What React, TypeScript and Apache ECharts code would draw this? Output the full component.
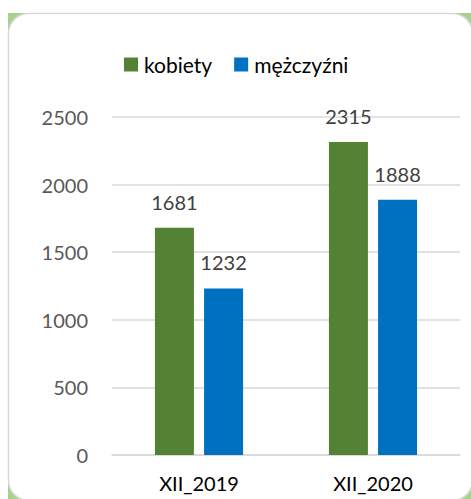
import React, { useEffect, useRef } from "react";
import * as echarts from "echarts";

const categories = ["XII_2019", "XII_2020"];
const kobiety = [1681, 2315];
const mezczyzni = [1232, 1888];
const seriesNames = ["kobiety", "mężczyźni"];
const yTicks = [0, 500, 1000, 1500, 2000, 2500];

const FONT = "Lato, 'Open Sans', sans-serif";

export default function App() {
  const ref = useRef<HTMLDivElement>(null);
  useEffect(() => {
    if (!ref.current) return;
    const chart = echarts.init(ref.current, null, { renderer: "svg" });
    const labelCfg = {
      show: true,
      position: "top",
      distance: 16,
      fontFamily: FONT,
      fontSize: 20,
      color: "#404040",
    };
    const corner = (x: number, y: number) => ({
      type: "rect",
      silent: true,
      z: -10,
      shape: { x, y, width: 24, height: 24 },
      style: { fill: "#a9d18e" },
    });
    chart.setOption({
      animation: false,
      backgroundColor: "#ffffff",
      graphic: [
        corner(8, 13),
        corner(449, 13),
        corner(8, 477),
        corner(449, 477),
        {
          type: "rect",
          silent: true,
          z: -9,
          shape: { x: 8.5, y: 13.5, width: 464, height: 487, r: 20 },
          style: { fill: "#ffffff", stroke: "#d9d9d9", lineWidth: 1.5 },
        },
      ],
      legend: {
        data: seriesNames,
        top: 49,
        left: 119,
        itemWidth: 14,
        itemHeight: 14,
        itemGap: 22,
        icon: "rect",
        textStyle: { fontFamily: FONT, fontSize: 21, color: "#000000", padding: [0, 0, 0, 1] },
      },
      grid: { left: 112, right: 11, top: 117, bottom: 44, containLabel: false },
      xAxis: {
        type: "category",
        data: categories,
        axisLine: { lineStyle: { color: "#d9d9d9", width: 1.5 } },
        axisTick: { show: false },
        axisLabel: { fontFamily: FONT, fontSize: 20, color: "#000000", margin: 18 },
      },
      yAxis: {
        type: "value",
        min: yTicks[0],
        max: yTicks[yTicks.length - 1],
        interval: 500,
        axisLine: { show: false },
        axisTick: { show: false },
        splitLine: { lineStyle: { color: "#d9d9d9", width: 1.5 } },
        axisLabel: {
          fontFamily: FONT,
          fontSize: 20,
          color: "#595959",
          margin: 24,
          formatter: (v: number) => String(v),
        },
      },
      series: [
        {
          name: seriesNames[0],
          type: "bar",
          data: kobiety,
          itemStyle: { color: "#548235" },
          barWidth: 39,
          barGap: "26%",
          label: labelCfg,
        },
        {
          name: seriesNames[1],
          type: "bar",
          data: mezczyzni,
          itemStyle: { color: "#0070c0" },
          barWidth: 39,
          label: labelCfg,
        },
      ],
    });
    return () => chart.dispose();
  }, []);
  return (
    <div
      ref={ref}
      style={{ position: "fixed", left: 0, top: 0, width: 471, height: 499, overflow: "hidden" }}
    />
  );
}
